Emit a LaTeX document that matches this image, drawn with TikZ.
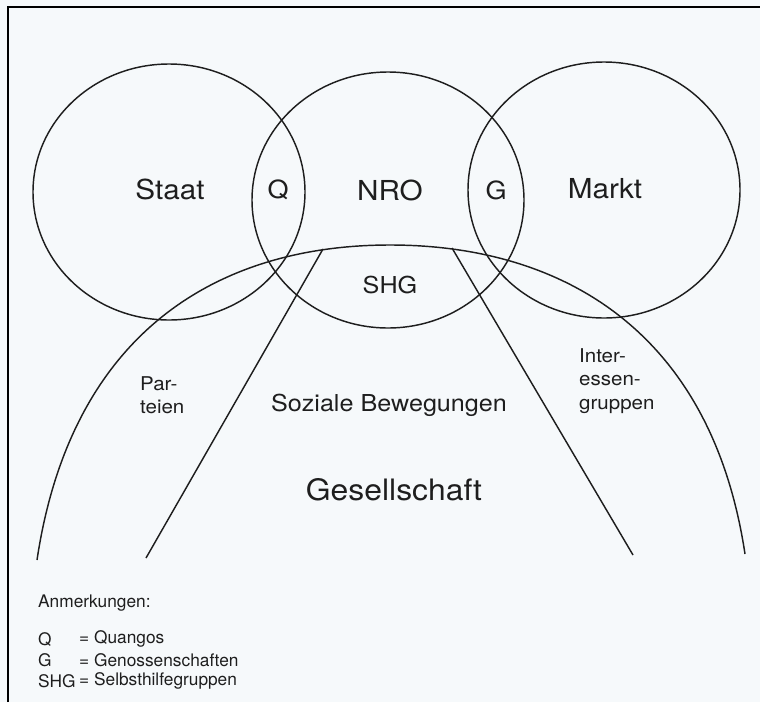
\documentclass[tikz,border=0pt]{standalone}
\usepackage{fontspec}
\setmainfont{TeX Gyre Heros}[FakeStretch=1.08]
\newfontfamily\legfont{TeX Gyre Heros}
\definecolor{ink}{RGB}{30,30,30}
\definecolor{paper}{RGB}{246,249,251}
\begin{document}
\begin{tikzpicture}[x=1pt,y=-1pt,
  lbl/.style={text=ink, inner sep=0pt},
  big/.style={lbl, font=\fontsize{27.5}{32}\selectfont},
  lens/.style={lbl, font=\fontsize{25}{30}\selectfont},
  mid/.style={lbl, font=\fontsize{23.3}{28}\selectfont},
  small/.style={lbl, font=\fontsize{19}{23.5}\selectfont, align=left},
  legend/.style={lbl, font=\legfont\fontsize{17.3}{20}\selectfont, anchor=west},
  outl/.style={draw=ink, line width=1.45pt}]
\useasboundingbox (0,0) rectangle (760,702);
\fill[paper] (0,0) rectangle (760,702);
% frame
\draw[black, line width=2.8pt] (8,702) -- (8,7) -- (760,7);
% circles
\draw[outl] (169,192) ellipse [x radius=136pt, y radius=128pt];
\draw[outl] (388,200) ellipse [x radius=136pt, y radius=128pt];
\draw[outl] (604,190) ellipse [x radius=136pt, y radius=128pt];
% society arc
\coordinate (al) at (37,560);
\coordinate (atop) at (390,245);
\coordinate (ar) at (745,554);
\draw[outl] (al) .. controls (71.5,330) and (220,245) .. (atop)
                 .. controls (560,245) and (711,329) .. (ar);
% inner lines
\coordinate (l1) at (323,249); \coordinate (l2) at (146,558);
\coordinate (r1) at (452,248); \coordinate (r2) at (633,555);
\draw[outl] (l1) -- (l2);
\draw[outl] (r1) -- (r2);
% labels
\node[big] (staat) at (170,189) {Staat};
\node[big] (nro) at (390,190) {NRO};
\node[big] (markt) at (605,189) {Markt};
\node[lens] (q) at (278,190) {Q};
\node[lens] (g) at (496,190) {G};
\node[mid] (shg) at (390,285) {SHG};
\node[small, anchor=north west] (part) at (140,376) {Par-\\teien};
\node[mid] (soz) at (389,405) {Soziale Bewegungen};
\node[small, anchor=north west] (inter) at (579,348) {Inter-\\essen-\\gruppen};
\node[lbl, font=\fontsize{29.5}{34}\selectfont] (ges) at (394,490) {Gesellschaft};
% legend
\node[legend] (anm) at (38,603) {Anmerkungen:};
\node[legend] (kq) at (38,639) {Q};
\node[legend] (vq) at (79,639) {= Quangos};
\node[legend] (kg) at (38,660) {G};
\node[legend] (vg) at (79,660) {= Genossenschaften};
\node[legend] (ks) at (38,681) {SHG};
\node[legend] (vs) at (79,681) {= Selbsthilfegruppen};
\end{tikzpicture}
\end{document}
